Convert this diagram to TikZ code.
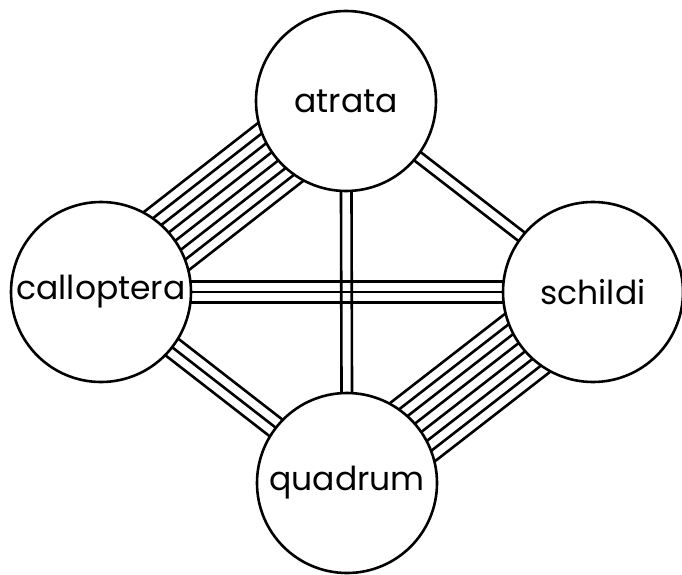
\documentclass[tikz,border=0pt]{standalone}
\usepackage{fontspec}
\setmainfont{Poppins}
\usetikzlibrary{calc, backgrounds}

\tikzset{
  species/.style={circle, draw, line width=2.6pt, fill=white, minimum size=180pt, inner sep=0pt, font=\fontsize{33}{33}\selectfont},
  band/.style={line width=2.6pt}
}

\begin{document}
\begin{tikzpicture}[x=1pt,y=-1pt]
\def\gap{10.5}
\useasboundingbox (0,0) rectangle (682,575);
\node[species] (atr) at (346,101) {atrata};
\node[species] (cal) at (101,292) {calloptera};
\node[species] (sch) at (593,292) {schildi};
\node[species] (qua) at (347,483) {quadrum};
% parallel bands between the circles
\begin{pgfonlayer}{background}
\foreach \A/\B/\n in {atr/cal/8, atr/sch/2, atr/qua/2, cal/sch/3, cal/qua/3, sch/qua/8}{
  \foreach \i in {1,...,\n}{
    \pgfmathsetmacro{\off}{(\i-(\n+1)/2)*\gap}
    \draw[band] ($(\A)!\off pt!90:(\B)$) -- ($(\B)!\off pt!-90:(\A)$);
  }
}
\end{pgfonlayer}
\end{tikzpicture}
\end{document}
